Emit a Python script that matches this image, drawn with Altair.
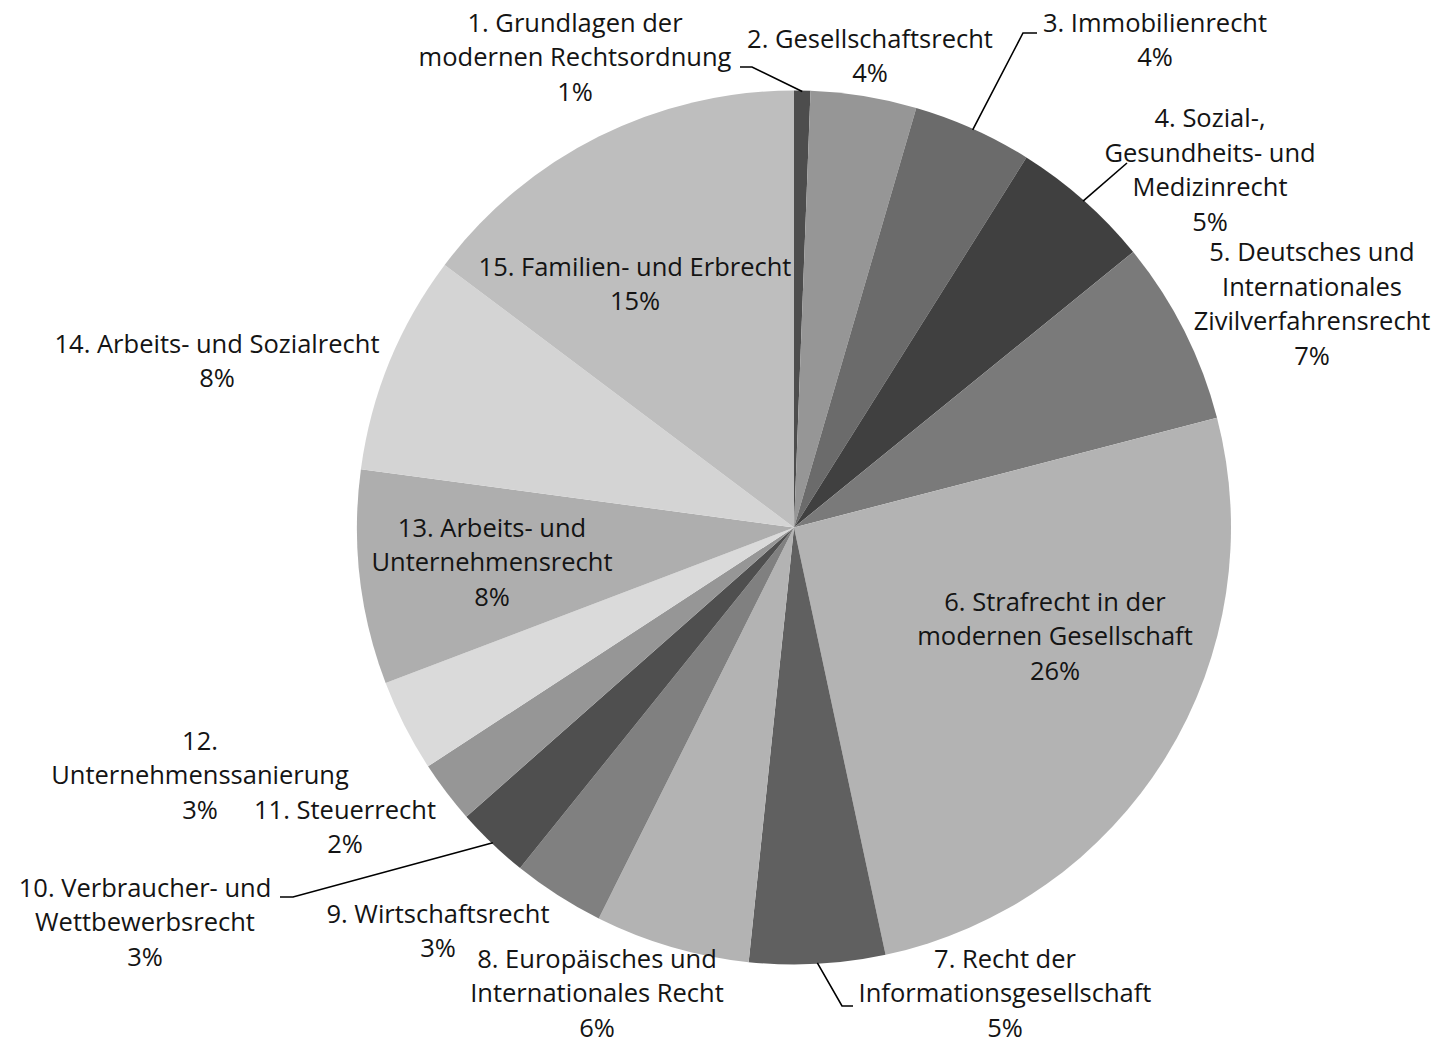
import math
import altair as alt
import pandas as pd

# ---- data ----
CATEGORIES = [
    "1. Grundlagen der modernen Rechtsordnung",
    "2. Gesellschaftsrecht",
    "3. Immobilienrecht",
    "4. Sozial-, Gesundheits- und Medizinrecht",
    "5. Deutsches und Internationales Zivilverfahrensrecht",
    "6. Strafrecht in der modernen Gesellschaft",
    "7. Recht der Informationsgesellschaft",
    "8. Europäisches und Internationales Recht",
    "9. Wirtschaftsrecht",
    "10. Verbraucher- und Wettbewerbsrecht",
    "11. Steuerrecht",
    "12. Unternehmenssanierung",
    "13. Arbeits- und Unternehmensrecht",
    "14. Arbeits- und Sozialrecht",
    "15. Familien- und Erbrecht",
]
LABEL_LINES = [
    ["1. Grundlagen der", "modernen Rechtsordnung"],
    ["2. Gesellschaftsrecht"],
    ["3. Immobilienrecht"],
    ["4. Sozial-,", "Gesundheits- und", "Medizinrecht"],
    ["5. Deutsches und", "Internationales", "Zivilverfahrensrecht"],
    ["6. Strafrecht in der", "modernen Gesellschaft"],
    ["7. Recht der", "Informationsgesellschaft"],
    ["8. Europäisches und", "Internationales Recht"],
    ["9. Wirtschaftsrecht"],
    ["10. Verbraucher- und", "Wettbewerbsrecht"],
    ["11. Steuerrecht"],
    ["12.", "Unternehmenssanierung"],
    ["13. Arbeits- und", "Unternehmensrecht"],
    ["14. Arbeits- und Sozialrecht"],
    ["15. Familien- und Erbrecht"],
]
VALUES = [0.6, 3.9, 4.4, 5.2, 6.8, 25.6, 5.0, 5.7, 3.4, 2.7, 2.3, 3.4, 7.9, 8.1, 14.7]
COLORS = [
    "#4d4d4d", "#969696", "#6b6b6b", "#404040", "#7a7a7a",
    "#b3b3b3", "#606060", "#b3b3b3", "#808080", "#4f4f4f",
    "#969696", "#dadada", "#aeaeae", "#d4d4d4", "#bebebe",
]

# ---- layout ----
CX, CY, R = 786, 519.5, 437
LINE_H = 34.5
LABEL_XY = [
    (567, 50), (862, 49), (1147, 33), (1202, 163), (1304, 297),
    (1047, 629), (997, 986), (589, 986), (430, 924), (137, 915),
    (337, 820), (192, 768), (484, 555), (209, 354), (627, 277),
]
# outer points of leader lines (the pie end is computed from the slice angle)
LEADERS = {
    0: [(732, 59), (744, 59)],
    2: [(1029, 25), (1015, 25)],
    3: [(1119, 155)],
    6: [(845, 998), (834, 998)],
    9: [(272, 889), (285, 889)],
}

total = sum(VALUES)
pie_df = pd.DataFrame({"cat": CATEGORIES, "value": VALUES, "order": list(range(len(VALUES)))})

txt_rows = []
for i, lines in enumerate(LABEL_LINES):
    pct = round(VALUES[i] / total * 100)
    all_lines = lines + [f"{pct}%"]
    n = len(all_lines)
    txt_rows.append({"x": LABEL_XY[i][0],
                     "y": LABEL_XY[i][1] - (n - 1) / 2 * LINE_H,
                     "text": "\n".join(all_lines)})
txt_df = pd.DataFrame(txt_rows)

line_rows = []
cum = 0.0
mids = []
for v in VALUES:
    mids.append((cum + v / 2) / total * 2 * math.pi)
    cum += v
for i, pts in LEADERS.items():
    th = mids[i]
    end = (CX + (R - 1) * math.sin(th), CY - (R - 1) * math.cos(th))
    allpts = list(pts) + [end]
    for s, (px, py) in enumerate(allpts):
        line_rows.append({"id": i, "seq": s, "x": px, "y": py})
line_df = pd.DataFrame(line_rows)

pie = alt.Chart(pie_df).mark_arc(radius=R, x=CX, y=CY).encode(
    theta=alt.Theta("value:Q", stack=True),
    order=alt.Order("order:Q"),
    color=alt.Color("cat:N", scale=alt.Scale(domain=CATEGORIES, range=COLORS), legend=None),
)

labels = alt.Chart(txt_df).mark_text(
    font="Open Sans", fontSize=25.5, lineBreak="\n", lineHeight=LINE_H,
    align="center", baseline="middle", color="#141414",
).encode(
    x=alt.X("x:Q", scale=None, axis=None),
    y=alt.Y("y:Q", scale=None, axis=None),
    text="text:N",
)

leaders = alt.Chart(line_df).mark_line(color="#000000", strokeWidth=1.6).encode(
    x=alt.X("x:Q", scale=None, axis=None),
    y=alt.Y("y:Q", scale=None, axis=None),
    detail="id:N",
    order="seq:Q",
)

chart = alt.layer(pie, leaders, labels).properties(
    width=1423, height=1031, autosize="none", padding=0,
).configure_view(stroke=None)

chart.save("out.html", embed_options={"renderer": "svg", "actions": False})
